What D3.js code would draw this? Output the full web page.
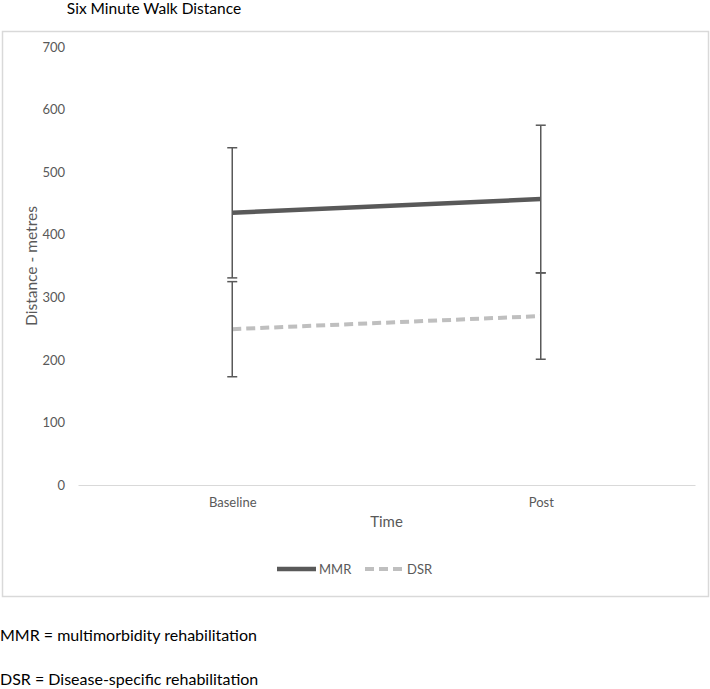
<!DOCTYPE html>
<html>
<head>
<meta charset="utf-8">
<script src="https://cdn.jsdelivr.net/npm/d3@7"></script>
<style>
  body { margin: 0; background: #fff; }
  svg { display: block; font-family: Lato, "Open Sans", sans-serif; }
</style>
</head>
<body>
<svg width="710" height="689"></svg>
<script>
// Data
const timepoints = ["Baseline", "Post"];
const seriesNames = ["MMR", "DSR"];
const mmrMeans = [435, 457];
const mmrErrors = [104, 118];
const dsrMeans = [249, 270];
const dsrErrors = [76, 69];
const yTicks = [0, 100, 200, 300, 400, 500, 600, 700];
const footnotes = ["MMR = multimorbidity rehabilitation", "DSR = Disease-specific rehabilitation"];

const series = [
  { name: seriesNames[0], means: mmrMeans, errors: mmrErrors, color: "#595959", dash: null, width: 4.5 },
  { name: seriesNames[1], means: dsrMeans, errors: dsrErrors, color: "#bfbfbf", dash: "9,5", width: 4 }
];

const svg = d3.select("svg");

// Chart frame
svg.append("rect")
  .attr("x", 2.5).attr("y", 31.5)
  .attr("width", 706).attr("height", 565)
  .attr("fill", "#fff")
  .attr("stroke", "#d9d9d9")
  .attr("stroke-width", 1.5);

// Title (sits above the frame)
svg.append("text")
  .attr("x", 154).attr("y", 14)
  .attr("text-anchor", "middle")
  .attr("font-size", 15.5)
  .attr("fill", "#000")
  .text("Six Minute Walk Distance");

const margin = { left: 78, right: 15, top: 47, bottom: 204 };
const width = 710 - margin.left - margin.right;
const height = 689 - margin.top - margin.bottom;

const g = svg.append("g").attr("transform", `translate(${margin.left},${margin.top})`);

const x = d3.scalePoint()
  .domain(timepoints)
  .range([0, width])
  .padding(0.5);

const y = d3.scaleLinear()
  .domain([0, 700])
  .range([height, 0]);

// Y axis: labels only
const yAxis = g.append("g")
  .call(d3.axisLeft(y).tickValues(yTicks).tickSize(0).tickPadding(13));
yAxis.select(".domain").remove();
yAxis.selectAll("text")
  .attr("font-size", 13)
  .attr("fill", "#595959")
  .attr("font-family", "Lato, sans-serif");

// X axis: baseline line + category labels
const xAxis = g.append("g")
  .attr("transform", `translate(0,${height})`)
  .call(d3.axisBottom(x).tickSize(0).tickPadding(13));
xAxis.select(".domain").attr("stroke", "#d9d9d9").attr("stroke-width", 1.2);
xAxis.selectAll("text")
  .attr("font-size", 13)
  .attr("fill", "#595959")
  .attr("font-family", "Lato, sans-serif");

// Axis titles
g.append("text")
  .attr("transform", "rotate(-90)")
  .attr("x", -(y(300) + y(400)) / 2)
  .attr("y", -41)
  .attr("text-anchor", "middle")
  .attr("font-size", 15.5)
  .attr("fill", "#595959")
  .text("Distance - metres");

g.append("text")
  .attr("x", width / 2)
  .attr("y", height + 42)
  .attr("text-anchor", "middle")
  .attr("font-size", 15)
  .attr("fill", "#595959")
  .text("Time");

// Lines
const line = d3.line()
  .x((d, i) => x(timepoints[i]))
  .y(d => y(d));

series.forEach(s => {
  g.append("path")
    .datum(s.means)
    .attr("fill", "none")
    .attr("stroke", s.color)
    .attr("stroke-width", s.width)
    .attr("stroke-dasharray", s.dash)
    .attr("d", line);
});

// Error bars
const capHalf = 5;
series.forEach(s => {
  const eb = g.append("g").attr("stroke", "#595959").attr("stroke-width", 1.5);
  s.means.forEach((m, i) => {
    const cx = x(timepoints[i]);
    const lo = y(m - s.errors[i]);
    const hi = y(m + s.errors[i]);
    eb.append("line").attr("x1", cx).attr("x2", cx).attr("y1", hi).attr("y2", lo);
    eb.append("line").attr("x1", cx - capHalf).attr("x2", cx + capHalf).attr("y1", hi).attr("y2", hi);
    eb.append("line").attr("x1", cx - capHalf).attr("x2", cx + capHalf).attr("y1", lo).attr("y2", lo);
  });
});

// Legend
const legend = svg.append("g").attr("transform", "translate(277,569)");
const legendPos = [0, 88];
series.forEach((s, i) => {
  const lg = legend.append("g").attr("transform", `translate(${legendPos[i]},0)`);
  lg.append("line")
    .attr("x1", 0).attr("x2", 39)
    .attr("stroke", s.color)
    .attr("stroke-width", s.width)
    .attr("stroke-dasharray", s.dash);
  lg.append("text")
    .attr("x", 42).attr("y", 4.5)
    .attr("font-size", 13)
    .attr("fill", "#595959")
    .text(s.name);
});

// Footnotes below the chart
svg.selectAll(".footnote")
  .data(footnotes)
  .join("text")
  .attr("class", "footnote")
  .attr("x", 0)
  .attr("y", (d, i) => 641 + i * 44)
  .attr("font-size", 16)
  .attr("fill", "#000")
  .text(d => d);
</script>
</body>
</html>
